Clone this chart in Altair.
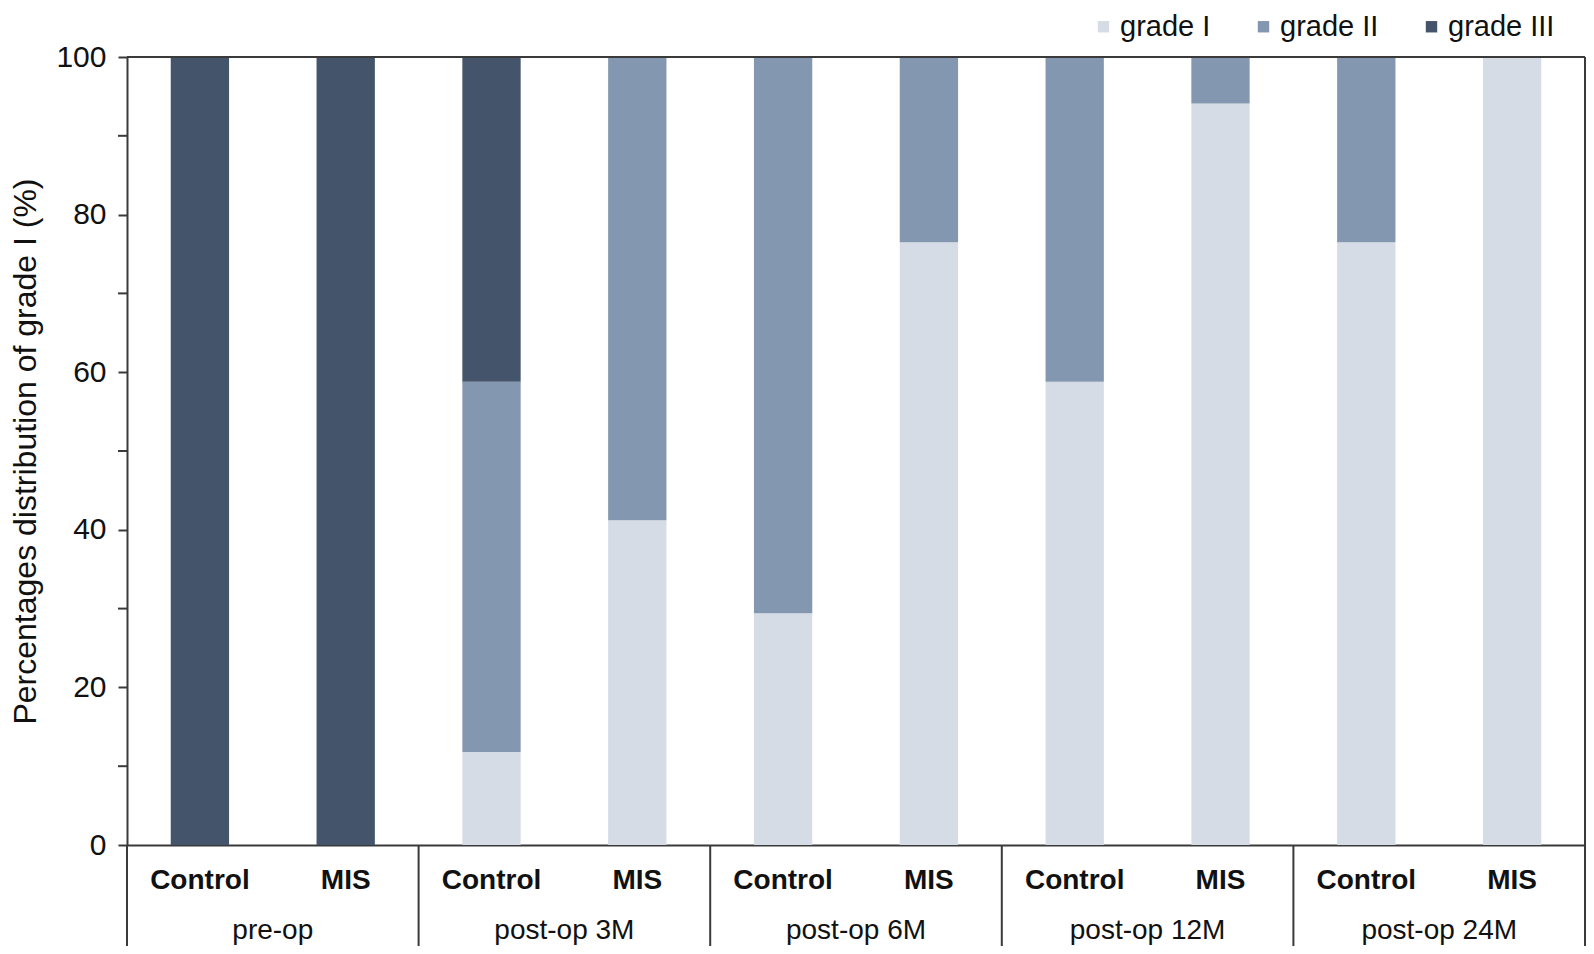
import altair as alt
import pandas as pd

# ---- data ----
timepoints = ["pre-op", "post-op 3M", "post-op 6M", "post-op 12M", "post-op 24M"]
groups = ["Control", "MIS"]
grades = ["grade I", "grade II", "grade III"]
grade_I = [0, 0, 11.8, 41.2, 29.4, 76.5, 58.8, 94.1, 76.5, 100]
grade_II = [0, 0, 47.0, 58.8, 70.6, 23.5, 41.2, 5.9, 23.5, 0]
grade_III = [100, 100, 41.2, 0, 0, 0, 0, 0, 0, 0]
y_ticks = [0, 20, 40, 60, 80, 100]
y_minor = [10, 30, 50, 70, 90]
colors = ["#D6DCE5", "#8497B0", "#44546A"]

W, H = 1458, 788
FONT = "Liberation Sans"
LINE = "#3a3a3a"

keys = [f"{t}|{g}" for t in timepoints for g in groups]
rows = []
for i, k in enumerate(keys):
    for gname, vals, o in zip(grades, [grade_I, grade_II, grade_III], [0, 1, 2]):
        if vals[i] > 0:
            rows.append({"key": k, "grade": gname, "value": vals[i], "ord": o})
bars_df = pd.DataFrame(rows)

lab1_df = pd.DataFrame({"key": keys, "label": [g for t in timepoints for g in groups]})
tp_df = pd.DataFrame({"tp": timepoints})
last_df = pd.DataFrame({"tp": [timepoints[-1]]})
minor_df = pd.DataFrame({"value": y_minor})

xscale = alt.Scale(domain=keys, paddingInner=0.6, paddingOuter=0.3)
tpscale = alt.Scale(domain=timepoints, paddingInner=0, paddingOuter=0)

def xenc(**kw):
    return alt.X("key:N", scale=xscale, **kw)

def tpenc(**kw):
    return alt.X("tp:N", scale=tpscale, axis=None, **kw)

bars = alt.Chart(bars_df).mark_bar().encode(
    x=xenc(axis=alt.Axis(labels=False, ticks=False, title=None, domainColor=LINE, domainWidth=2)),
    y=alt.Y("value:Q", stack="zero",
            scale=alt.Scale(domain=[0, 100], nice=False),
            axis=alt.Axis(values=y_ticks, tickSize=9, tickWidth=2, tickColor=LINE,
                          domainColor=LINE, domainWidth=2, labelPadding=12,
                          labelFontSize=30, labelFont=FONT, labelColor="#111",
                          title="Percentages distribution of grade I (%)",
                          titleFontSize=32, titleFont=FONT, titleFontWeight="normal",
                          titleColor="#111", titlePadding=13, grid=False)),
    color=alt.Color("grade:N", scale=alt.Scale(domain=grades, range=colors),
                    legend=alt.Legend(title=None, orient="none", direction="horizontal",
                                      legendX=962, legendY=-45, symbolType="square",
                                      symbolSize=130, symbolStrokeWidth=0,
                                      labelFontSize=29, labelFont=FONT, labelColor="#111",
                                      labelOffset=2, columnPadding=38, padding=0)),
    order=alt.Order("ord:Q"),
)

minor = alt.Chart(minor_df).mark_rule(color=LINE, strokeWidth=2).encode(
    y=alt.Y("value:Q"), x=alt.value(-9), x2=alt.value(0)
)

seps = alt.Chart(tp_df).mark_rule(color=LINE, strokeWidth=2).encode(
    x=tpenc(bandPosition=0), y=alt.value(H), y2=alt.value(H + 110)
)
right = alt.Chart(last_df).mark_rule(color=LINE, strokeWidth=2).encode(
    x=tpenc(bandPosition=1), y=alt.value(0), y2=alt.value(H + 110)
)
top = alt.Chart(last_df).mark_rule(color=LINE, strokeWidth=2).encode(
    x=alt.value(0), x2=alt.value(W), y=alt.value(0)
)

lab1 = alt.Chart(lab1_df).mark_text(font=FONT, fontSize=28, fontWeight="bold",
                                    color="#111", baseline="middle").encode(
    x=xenc(axis=None), y=alt.value(H + 36), text="label:N"
)
lab2 = alt.Chart(tp_df).mark_text(font=FONT, fontSize=28, color="#111",
                                  baseline="middle").encode(
    x=tpenc(bandPosition=0.5), y=alt.value(H + 86), text="tp:N"
)

chart = alt.layer(bars, lab1, minor, top, right, seps, lab2).resolve_scale(
    x="independent"
).properties(
    width=W, height=H,
    autosize=alt.AutoSizeParams(type="none"),
    padding={"left": 119, "top": 49, "right": 1, "bottom": 101},
).configure_view(stroke=None).configure(background="white")

chart.save("out.html", embed_options={"renderer": "svg", "actions": False})
